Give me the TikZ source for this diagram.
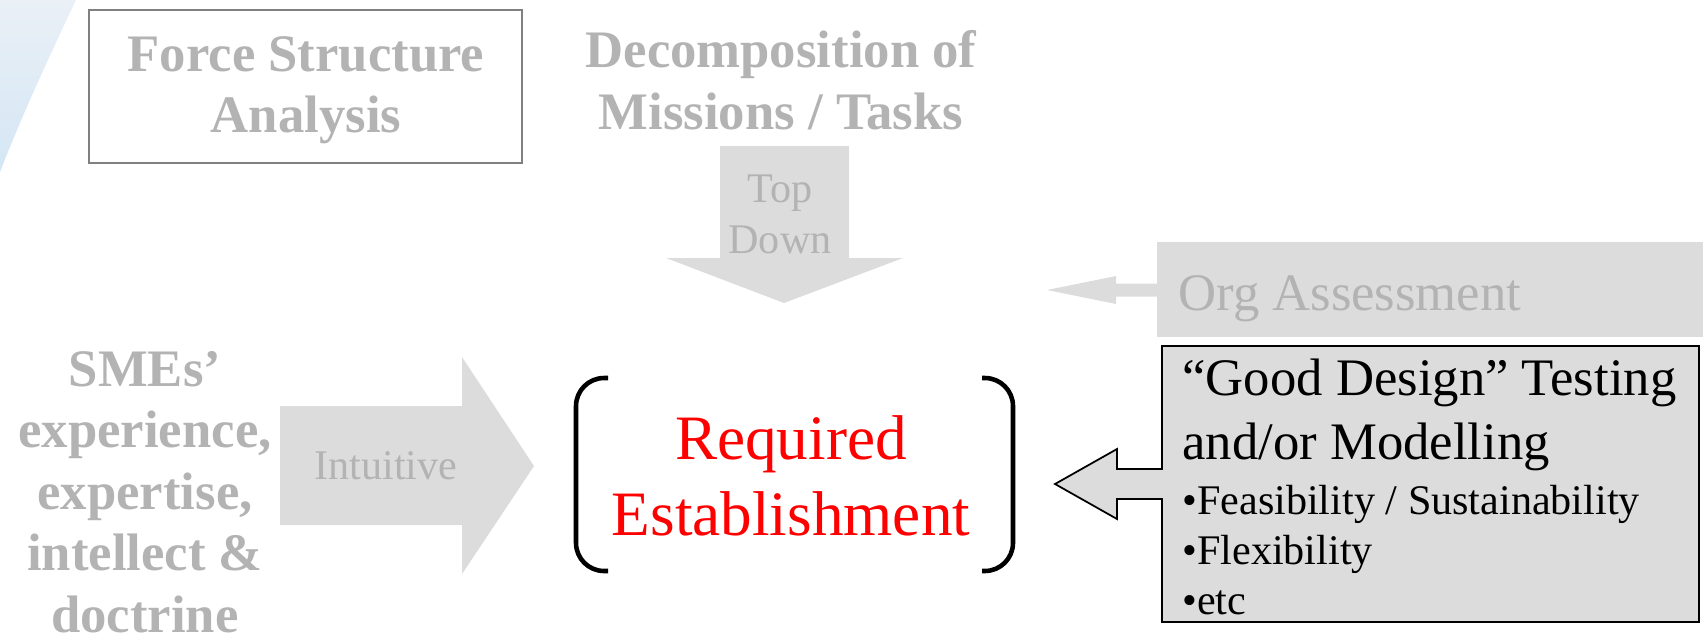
\documentclass[tikz,border=0pt]{standalone}
\usepackage{fontspec}
\setmainfont{Liberation Serif}
\usetikzlibrary{positioning}
\definecolor{shade}{HTML}{DCDCDC}
\definecolor{faint}{HTML}{B3B3B3}
\definecolor{frame}{HTML}{808080}
\definecolor{washA}{HTML}{EAF0F6}
\definecolor{washB}{HTML}{D4E6F4}
\begin{document}
\begin{tikzpicture}[x=0.02cm,y=-0.02cm,
	heavy/.style={font=\fontsize{30}{35}\selectfont\bfseries,text=faint,align=center,inner sep=0},
	soft/.style={font=\fontsize{24}{29}\selectfont,text=faint,align=center,inner sep=0},
	block/.style={fill=shade,draw=none}]
	\tikzset{bracket/.style={line width=2.6pt,rounded corners=16pt}}
	\useasboundingbox (0,0) rectangle (1706,643);
	\shade[top color=washA,bottom color=washB] (0,0) -- (76,0) .. controls (50,55) and (22,115) .. (0,172) -- cycle;
	% top row
	\draw[frame,line width=0.9pt] (89,10) rectangle (522,163);
	\node[heavy] (fsa) at (306,90) {Force Structure\\Analysis};
	\node[heavy] (dmt) at (781,80) {Decomposition of\\Missions / Tasks};
	\fill[block] (720,146) -- (849,146) -- (849,258) -- (903,258) -- (784,303) -- (666,258) -- (720,258) -- cycle;
	\node[soft] (td) at (780,214) {Top\\Down};
	% left
	\node[heavy] (sme) at (145,492) {SMEs’\\experience,\\expertise,\\intellect \&\\doctrine};
	\fill[block] (280,406) -- (462,406) -- (462,357) -- (534,466) -- (462,574) -- (462,525) -- (280,525) -- cycle;
	\node[soft,anchor=base] (intu) at (386,479) {Intuitive};
	% centre
	\draw[bracket] (608,378) -- (576,378) -- (576,571) -- (608,571);
	\draw[bracket] (982,378) -- (1013,378) -- (1013,571) -- (982,571);
	\node[font=\fontsize{36}{43}\selectfont,text=red,align=center,inner sep=0] (req) at (791,476) {Required\\Establishment};
	% right
	\fill[block] (1157,242) rectangle (1703,337);
	\fill[block] (1157,283.5) -- (1116,283.5) -- (1116,276) -- (1047,290) -- (1116,304) -- (1116,296.5) -- (1157,296.5) -- cycle;
	\node[anchor=base west,font=\fontsize{30}{36}\selectfont,text=faint,inner sep=0] (org) at (1178,310) {Org Assessment};
	\draw[fill=shade,line width=1pt] (1162,346) -- (1699,346) -- (1699,622) -- (1162,622) -- (1162,499) -- (1117,499) -- (1117,519) -- (1055,484) -- (1117,449) -- (1117,469) -- (1162,469) -- cycle;
	\node[anchor=north west,inner sep=0,text width=320pt,align=flush left,
		execute at begin node=\setlength{\parindent}{0pt}] (gdt) at (1182,359)
		{\fontsize{30}{36}\selectfont “Good Design” Testing\par and/or Modelling\par
		\fontsize{24}{28.5}\selectfont\vspace{3pt}•Feasibility / Sustainability\par •Flexibility\par •etc\par};
\end{tikzpicture}
\end{document}
